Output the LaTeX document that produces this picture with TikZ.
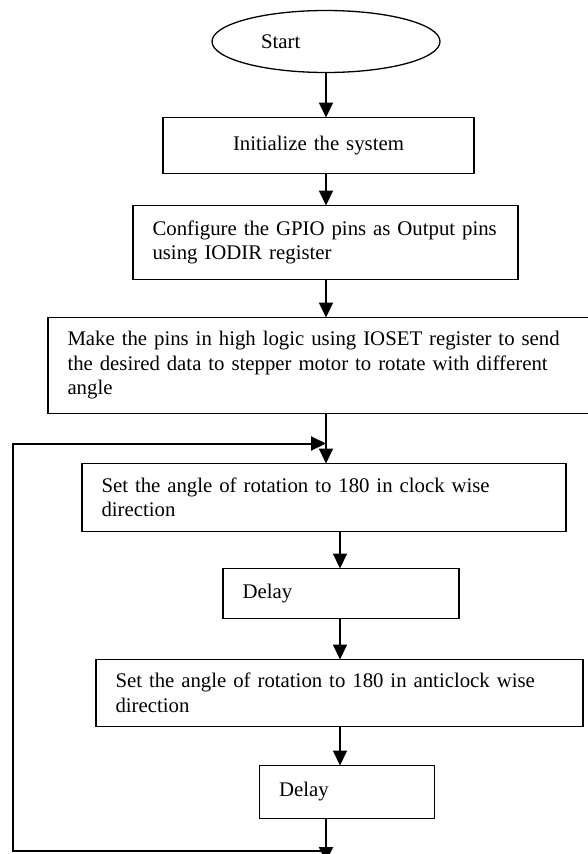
\documentclass[tikz,border=0pt]{standalone}
\usepackage{fontspec}
\setmainfont{Liberation Serif}
\usetikzlibrary{positioning, arrows.meta, shapes.geometric}

\begin{document}
\begin{tikzpicture}[
    font=\fontsize{20.8}{24.5}\selectfont,
    terminal/.style={
        ellipse, draw=black, line width=1.3pt, outer sep=0pt,
        minimum width=228pt, minimum height=62pt,
        text width=130pt, align=left
    },
    stepbox/.style={
        rectangle, draw=black, line width=1.3pt, outer sep=0pt,
        inner xsep=19.5pt, inner ysep=0pt,
        align=left
    },
    flow/.style={-{Triangle[length=15pt, width=14pt]}, line width=2pt, draw=black}
]
\useasboundingbox (0,0) rectangle (587pt,-854pt);

% ============ Start ============
\node[terminal] (start) at (326pt,-41.5pt) {Start};

% ============ Setup steps ============
\node[stepbox, align=center, text width=272pt, minimum height=56pt,
      below=45pt of start, xshift=-7.5pt] (init) {Initialize the system};
\node[stepbox, text width=346pt, minimum height=74pt,
      below=32pt of init, xshift=7pt] (config) {
    Configure the GPIO pins as Output pins\\
    using IODIR register
};
\node[stepbox, text width=505pt, minimum height=96pt,
      below=38pt of config, xshift=-5.5pt] (pins) {
    Make the pins in high logic using IOSET register to send\\
    the desired data to stepper motor to rotate with different\\
    angle
};

% ============ Rotation loop ============
\node[stepbox, text width=445pt, minimum height=68pt,
      below=50pt of pins, xshift=4pt] (cw) {
    Set the angle of rotation to 180 in clock wise\\
    direction
};
\node[stepbox, text width=197pt, minimum height=50pt,
      below=37pt of cw, xshift=17pt] (delay1) {Delay};
\node[stepbox, text width=448pt, minimum height=67pt,
      below=41pt of delay1, xshift=-1.5pt] (acw) {
    Set the angle of rotation to 180 in anticlock wise\\
    direction
};
\node[stepbox, text width=136pt, minimum height=53pt,
      below=39pt of acw, xshift=7.5pt] (delay2) {Delay};

% ============ Helper points ============
\coordinate (lane) at ([xshift=14pt]start.center);
\coordinate (back) at ([xshift=-35pt]pins.west);
\path (start |- pins.south) ++(0,-30pt) coordinate (join);
\path (start |- delay2.south) ++(0,-32.5pt) coordinate (bottom);

% ============ Main flow ============
\draw[flow] (start) -- (start |- init.north);
\draw[flow] (start |- init.south) -- (start |- config.north);
\draw[flow] (start |- config.south) -- (start |- pins.north);
\draw[flow] (start |- pins.south) -- (start |- cw.north);
\draw[flow] (lane |- cw.south) -- (lane |- delay1.north);
\draw[flow] (lane |- delay1.south) -- (lane |- acw.north);
\draw[flow] (lane |- acw.south) -- (lane |- delay2.north);
\draw[flow] (start |- delay2.south) -- ++(0,-43.5pt);

% ============ Back to the loop ============
\draw[flow] (bottom) -| (back |- join) -- (join);

\end{tikzpicture}
\end{document}
